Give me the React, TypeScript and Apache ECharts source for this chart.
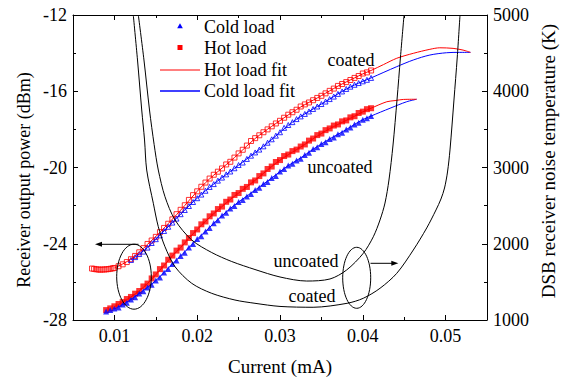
import React, { useEffect, useRef } from "react";
import * as echarts from "echarts";

const FONT = "Liberation Serif";

const xMajorTicks = [0.01, 0.02, 0.03, 0.04, 0.05];
const xMinorTicks = [0.015, 0.025, 0.035, 0.045];

// Coated, hot load (open squares)
const coatedHot: number[][] = [
  [0.0073, -25.3], [0.00755, -25.32], [0.0078, -25.34], [0.00805, -25.35], [0.0083, -25.36], [0.00855, -25.35],
  [0.0088, -25.35], [0.00905, -25.34], [0.0093, -25.33], [0.00955, -25.31], [0.0098, -25.29], [0.01, -25.27],
  [0.0105, -25.18], [0.011, -25.08], [0.0115, -24.96], [0.012, -24.81], [0.0125, -24.64], [0.013, -24.45],
  [0.0135, -24.23], [0.014, -24.01], [0.0145, -23.83], [0.015, -23.64], [0.0155, -23.39], [0.016, -23.17],
  [0.0165, -22.95], [0.017, -22.72], [0.0175, -22.45], [0.018, -22.22], [0.0185, -21.98], [0.019, -21.7],
  [0.0195, -21.45], [0.02, -21.25], [0.0205, -21.01], [0.021, -20.79], [0.0215, -20.58], [0.022, -20.38],
  [0.0225, -20.22], [0.023, -20.05], [0.0235, -19.84], [0.024, -19.7], [0.0245, -19.48], [0.025, -19.26],
  [0.0255, -19.07], [0.026, -18.85], [0.0265, -18.61], [0.027, -18.46], [0.0275, -18.31], [0.028, -18.15],
  [0.0285, -18.0], [0.029, -17.84], [0.0295, -17.69], [0.03, -17.55], [0.0305, -17.39], [0.031, -17.23],
  [0.0315, -17.1], [0.032, -16.97], [0.0325, -16.8], [0.033, -16.69], [0.0335, -16.59], [0.034, -16.47],
  [0.0345, -16.35], [0.035, -16.24], [0.0355, -16.11], [0.036, -15.98], [0.0365, -15.86], [0.037, -15.72],
  [0.0375, -15.62], [0.038, -15.52], [0.0385, -15.41], [0.039, -15.3], [0.0395, -15.2], [0.04, -15.07],
  [0.0405, -15.01], [0.041, -14.91],
];

// Coated, cold load (open triangles)
const coatedCold: number[][] = [
  [0.012, -24.85], [0.0125, -24.7], [0.013, -24.54], [0.0135, -24.41], [0.014, -24.2], [0.0145, -23.96],
  [0.015, -23.76], [0.0155, -23.56], [0.016, -23.33], [0.0165, -23.11], [0.017, -22.89], [0.0175, -22.68],
  [0.018, -22.45], [0.0185, -22.23], [0.019, -22.02], [0.0195, -21.81], [0.02, -21.61], [0.0205, -21.42],
  [0.021, -21.22], [0.0215, -21.02], [0.022, -20.87], [0.0225, -20.69], [0.023, -20.53], [0.0235, -20.36],
  [0.024, -20.21], [0.0245, -20.04], [0.025, -19.87], [0.0255, -19.74], [0.026, -19.55], [0.0265, -19.38],
  [0.027, -19.21], [0.0275, -19.06], [0.028, -18.89], [0.0285, -18.7], [0.029, -18.52], [0.0295, -18.33],
  [0.03, -18.15], [0.0305, -17.92], [0.031, -17.77], [0.0315, -17.62], [0.032, -17.46], [0.0325, -17.32],
  [0.033, -17.19], [0.0335, -17.06], [0.034, -16.93], [0.0345, -16.8], [0.035, -16.67], [0.0355, -16.54],
  [0.036, -16.41], [0.0365, -16.28], [0.037, -16.14], [0.0375, -16.01], [0.038, -15.88], [0.0385, -15.76],
  [0.039, -15.66], [0.0395, -15.57], [0.04, -15.48], [0.0405, -15.4], [0.041, -15.3],
];

// Uncoated, hot load (filled squares)
const uncoatedHot: number[][] = [
  [0.009, -27.48], [0.0095, -27.39], [0.01, -27.28], [0.0105, -27.16], [0.011, -27.06], [0.0115, -26.9],
  [0.012, -26.79], [0.0125, -26.62], [0.013, -26.48], [0.0135, -26.24], [0.014, -26.09], [0.0145, -25.82],
  [0.015, -25.61], [0.0155, -25.33], [0.016, -25.14], [0.0165, -24.84], [0.017, -24.62], [0.0175, -24.36],
  [0.018, -24.2], [0.0185, -23.93], [0.019, -23.7], [0.0195, -23.44], [0.02, -23.25], [0.0205, -22.98],
  [0.021, -22.83], [0.0215, -22.56], [0.022, -22.41], [0.0225, -22.18], [0.023, -22.05], [0.0235, -21.8],
  [0.024, -21.68], [0.0245, -21.44], [0.025, -21.34], [0.0255, -21.12], [0.026, -21.02], [0.0265, -20.78],
  [0.027, -20.68], [0.0275, -20.45], [0.028, -20.31], [0.0285, -20.08], [0.029, -19.95], [0.0295, -19.71],
  [0.03, -19.61], [0.0305, -19.4], [0.031, -19.32], [0.0315, -19.14], [0.032, -19.06], [0.0325, -18.9],
  [0.033, -18.79], [0.0335, -18.59], [0.034, -18.48], [0.0345, -18.3], [0.035, -18.22], [0.0355, -18.04],
  [0.036, -17.95], [0.0365, -17.8], [0.037, -17.74], [0.0375, -17.58], [0.038, -17.53], [0.0385, -17.37],
  [0.039, -17.31], [0.0395, -17.14], [0.04, -17.07], [0.0405, -16.94], [0.041, -16.89],
];

// Uncoated, cold load (filled triangles)
const uncoatedCold: number[][] = [
  [0.009, -27.55], [0.0095, -27.48], [0.01, -27.4], [0.0105, -27.34], [0.011, -27.19], [0.0115, -27.09],
  [0.012, -26.92], [0.0125, -26.8], [0.013, -26.61], [0.0135, -26.49], [0.014, -26.3], [0.0145, -26.15],
  [0.015, -25.93], [0.0155, -25.77], [0.016, -25.51], [0.0165, -25.32], [0.017, -25.06], [0.0175, -24.88],
  [0.018, -24.64], [0.0185, -24.47], [0.019, -24.2], [0.0195, -24.01], [0.02, -23.75], [0.0205, -23.6],
  [0.021, -23.36], [0.0215, -23.17], [0.022, -22.93], [0.0225, -22.77], [0.023, -22.52], [0.0235, -22.38],
  [0.024, -22.15], [0.0245, -22.02], [0.025, -21.81], [0.0255, -21.7], [0.026, -21.52], [0.0265, -21.39],
  [0.027, -21.18], [0.0275, -21.06], [0.028, -20.87], [0.0285, -20.76], [0.029, -20.55], [0.0295, -20.44],
  [0.03, -20.21], [0.0305, -20.08], [0.031, -19.89], [0.0315, -19.8], [0.032, -19.63], [0.0325, -19.54],
  [0.033, -19.34], [0.0335, -19.23], [0.034, -19.03], [0.0345, -18.94], [0.035, -18.77], [0.0355, -18.68],
  [0.036, -18.5], [0.0365, -18.42], [0.037, -18.26], [0.0375, -18.18], [0.038, -18.01], [0.0385, -17.9],
  [0.039, -17.74], [0.0395, -17.65], [0.04, -17.49], [0.0405, -17.42], [0.041, -17.3],
];

const coatedHotFit: number[][] = [
  [0.01, -25.27], [0.011, -25.06], [0.012, -24.8], [0.013, -24.45], [0.014, -24.03], [0.015, -23.62],
  [0.016, -23.17], [0.017, -22.71], [0.018, -22.24], [0.019, -21.74], [0.02, -21.25], [0.021, -20.8],
  [0.022, -20.4], [0.023, -20.03], [0.024, -19.67], [0.025, -19.28], [0.026, -18.87], [0.027, -18.48],
  [0.028, -18.15], [0.029, -17.84], [0.03, -17.54], [0.031, -17.24], [0.032, -16.96], [0.033, -16.7],
  [0.034, -16.47], [0.035, -16.23], [0.036, -15.98], [0.037, -15.73], [0.038, -15.51], [0.039, -15.3],
  [0.04, -15.09], [0.041, -14.91], [0.0425, -14.6], [0.0441, -14.27], [0.0461, -14.01], [0.0481, -13.8],
  [0.0493, -13.72], [0.0509, -13.75], [0.0521, -13.84], [0.053, -13.96],
];

const coatedColdFit: number[][] = [
  [0.012, -24.85], [0.013, -24.54], [0.014, -24.2], [0.015, -23.77], [0.016, -23.33], [0.017, -22.89],
  [0.018, -22.45], [0.019, -22.02], [0.02, -21.61], [0.021, -21.22], [0.022, -20.87], [0.023, -20.53],
  [0.024, -20.21], [0.025, -19.88], [0.026, -19.55], [0.027, -19.22], [0.028, -18.89], [0.029, -18.53],
  [0.03, -18.16], [0.031, -17.79], [0.032, -17.47], [0.033, -17.19], [0.034, -16.93], [0.035, -16.67],
  [0.036, -16.41], [0.037, -16.14], [0.038, -15.89], [0.039, -15.67], [0.04, -15.48], [0.041, -15.3],
  [0.0441, -14.71], [0.0461, -14.36], [0.0481, -14.1], [0.0501, -13.98], [0.0517, -13.96], [0.053, -13.96],
];

const uncoatedHotFit: number[][] = [
  [0.01, -27.3], [0.011, -27.06], [0.012, -26.79], [0.013, -26.47], [0.014, -26.09], [0.015, -25.62],
  [0.016, -25.14], [0.017, -24.64], [0.018, -24.2], [0.019, -23.71], [0.02, -23.25], [0.021, -22.83],
  [0.022, -22.42], [0.023, -22.05], [0.024, -21.68], [0.025, -21.34], [0.026, -21.01], [0.027, -20.67],
  [0.028, -20.31], [0.029, -19.95], [0.03, -19.62], [0.031, -19.33], [0.032, -19.06], [0.033, -18.79],
  [0.034, -18.49], [0.035, -18.22], [0.036, -17.96], [0.037, -17.74], [0.038, -17.53], [0.039, -17.31],
  [0.04, -17.08], [0.041, -16.89], [0.0429, -16.55], [0.0439, -16.49], [0.0449, -16.43], [0.0465, -16.42],
];

const uncoatedColdFit: number[][] = [
  [0.01, -27.42], [0.011, -27.19], [0.012, -26.92], [0.013, -26.61], [0.014, -26.29], [0.015, -25.93],
  [0.016, -25.51], [0.017, -25.06], [0.018, -24.64], [0.019, -24.2], [0.02, -23.76], [0.021, -23.35],
  [0.022, -22.93], [0.023, -22.53], [0.024, -22.15], [0.025, -21.81], [0.026, -21.5], [0.027, -21.18],
  [0.028, -20.87], [0.029, -20.55], [0.03, -20.22], [0.031, -19.9], [0.032, -19.63], [0.033, -19.35],
  [0.034, -19.04], [0.035, -18.77], [0.036, -18.5], [0.037, -18.26], [0.038, -18.01], [0.039, -17.74],
  [0.04, -17.49], [0.041, -17.3], [0.0433, -16.89], [0.0453, -16.55], [0.0465, -16.42],
];

// DSB receiver noise temperature (K)
const coatedNoise: number[][] = [
  [0.01228, 5000], [0.01279, 4410], [0.0133, 3754], [0.01364, 3361], [0.0139, 2967], [0.0147, 2531],
  [0.0153, 2224], [0.01611, 1961], [0.01732, 1699], [0.01934, 1481], [0.02175, 1350], [0.02456, 1262],
  [0.02698, 1219], [0.03, 1178], [0.034, 1167], [0.0381, 1219], [0.04006, 1285], [0.04208, 1416],
  [0.0441, 1612], [0.0461, 1918], [0.04772, 2207], [0.04884, 2443], [0.04944, 2587], [0.04987, 2731],
  [0.05023, 2941], [0.05053, 3230], [0.05101, 3885], [0.05141, 4449], [0.05174, 5000],
];

const uncoatedNoise: number[][] = [
  [0.01289, 5000], [0.01357, 4410], [0.01424, 3754], [0.0148, 3300], [0.0153, 2967], [0.01611, 2617],
  [0.01732, 2312], [0.01934, 2049], [0.02175, 1885], [0.02417, 1767], [0.02698, 1662], [0.03, 1564],
  [0.03322, 1511], [0.03604, 1538], [0.03805, 1656], [0.04006, 1875], [0.04127, 2092], [0.04208, 2312],
  [0.04268, 2534], [0.04316, 2836], [0.04365, 3295], [0.04413, 3885], [0.04455, 4449], [0.04498, 5000],
];

const RED = "#ff0000";
const BLUE = "#0000ff";

export default function App() {
  const ref = useRef<HTMLDivElement>(null);

  useEffect(() => {
    if (!ref.current) return;
    const chart = echarts.init(ref.current, undefined, { renderer: "svg" });
    const axisFont = { fontFamily: FONT, fontSize: 18, color: "#000" };
    const lineStyle = { color: "#000", width: 1 };

    const xBase = {
      type: "value" as const,
      min: 0.005,
      max: 0.055,
      splitLine: { show: false },
      gridIndex: 0,
    };

    const scatter = (name: string, data: number[][], symbol: string, size: number, filled: boolean, color: string) => ({
      name,
      type: "scatter",
      data,
      symbol,
      symbolSize: size,
      xAxisIndex: 0,
      yAxisIndex: 0,
      itemStyle: filled
        ? { color }
        : { color: "rgba(255,255,255,0)", borderColor: color, borderWidth: 1 },
      emphasis: { disabled: true },
    });

    const fit = (name: string, data: number[][], color: string) => ({
      name,
      type: "line",
      data,
      xAxisIndex: 0,
      yAxisIndex: 0,
      showSymbol: false,
      symbol: "none",
      smooth: 0.3,
      lineStyle: { color, width: 1 },
      z: 4,
    });

    const noise = (name: string, data: number[][]) => ({
      name,
      type: "line",
      data,
      xAxisIndex: 0,
      yAxisIndex: 1,
      showSymbol: false,
      symbol: "none",
      smooth: 0.3,
      lineStyle: { color: "#000", width: 1 },
      z: 5,
    });

    const textStyle = { fontFamily: FONT, fontSize: 18, fill: "#000" };

    chart.setOption({
      animation: false,
      backgroundColor: "#fff",
      grid: { left: 73, right: 78, top: 15, bottom: 63, containLabel: false },
      xAxis: [
        {
          ...xBase,
          position: "bottom",
          axisLine: { show: true, lineStyle },
          axisTick: { show: true, inside: true, length: 5, lineStyle, customValues: xMajorTicks },
          axisLabel: {
            ...axisFont,
            margin: 7,
            customValues: xMajorTicks,
            formatter: (v: number) => v.toFixed(2),
          },
          name: "Current (mA)",
          nameLocation: "middle",
          nameGap: 37,
          nameTextStyle: { fontFamily: FONT, fontSize: 19, color: "#000" },
        },
        {
          ...xBase,
          position: "bottom",
          axisLine: { show: false },
          axisTick: { show: true, inside: true, length: 3, lineStyle, customValues: xMinorTicks },
          axisLabel: { show: false },
        },
        {
          ...xBase,
          position: "top",
          axisLine: { show: true, lineStyle },
          axisTick: { show: true, inside: true, length: 5, lineStyle, customValues: xMajorTicks },
          axisLabel: { show: false },
        },
        {
          ...xBase,
          position: "top",
          axisLine: { show: false },
          axisTick: { show: true, inside: true, length: 3, lineStyle, customValues: xMinorTicks },
          axisLabel: { show: false },
        },
      ],
      yAxis: [
        {
          type: "value",
          min: -28,
          max: -12,
          interval: 4,
          position: "left",
          axisLine: { show: true, lineStyle },
          axisTick: { show: true, inside: true, length: 5, lineStyle },
          minorTick: { show: true, splitNumber: 2, length: 3, lineStyle },
          splitLine: { show: false },
          axisLabel: { ...axisFont, margin: 6 },
        },
        {
          type: "value",
          min: 1000,
          max: 5000,
          interval: 1000,
          position: "right",
          axisLine: { show: true, lineStyle },
          axisTick: { show: true, inside: true, length: 5, lineStyle },
          minorTick: { show: true, splitNumber: 2, length: 3, lineStyle },
          splitLine: { show: false },
          axisLabel: { ...axisFont, margin: 6, formatter: (v: number) => String(v) },
        },
      ],
      series: [
        scatter("Hot load", coatedHot, "rect", 5, false, RED),
        scatter("Cold load", coatedCold, "triangle", 5, false, BLUE),
        scatter("Hot load", uncoatedHot, "rect", 6, true, RED),
        scatter("Cold load", uncoatedCold, "triangle", 6, true, BLUE),
        fit("Cold load fit", coatedColdFit, BLUE),
        fit("Hot load fit", coatedHotFit, RED),
        fit("Cold load fit", uncoatedColdFit, BLUE),
        fit("Hot load fit", uncoatedHotFit, RED),
        noise("coated", coatedNoise),
        noise("uncoated", uncoatedNoise),
      ],
      graphic: [
        // axis titles
        {
          type: "text", x: 23.5, y: 180, rotation: Math.PI / 2,
          style: { ...textStyle, text: "Receiver output power (dBm)", align: "center", verticalAlign: "middle" },
        },
        {
          type: "text", x: 548, y: 161, rotation: Math.PI / 2,
          style: { ...textStyle, fontSize: 19, text: "DSB receiver noise temperature (K)", align: "center", verticalAlign: "middle" },
        },
        // legend
        { type: "polygon", shape: { points: [[180, 23.3], [182.8, 28.2], [177.2, 28.2]] }, style: { fill: BLUE }, z: 10 },
        { type: "rect", shape: { x: 177.5, y: 45, width: 5, height: 5 }, style: { fill: RED }, z: 10 },
        { type: "line", shape: { x1: 160, y1: 70, x2: 200, y2: 70 }, style: { stroke: RED, lineWidth: 1 }, z: 10 },
        { type: "line", shape: { x1: 160, y1: 91, x2: 200, y2: 91 }, style: { stroke: BLUE, lineWidth: 1.5 }, z: 10 },
        { type: "text", x: 204, y: 27, style: { ...textStyle, text: "Cold load", align: "left", verticalAlign: "middle" }, z: 10 },
        { type: "text", x: 204, y: 48, style: { ...textStyle, text: "Hot load", align: "left", verticalAlign: "middle" }, z: 10 },
        { type: "text", x: 204, y: 70, style: { ...textStyle, text: "Hot load fit", align: "left", verticalAlign: "middle" }, z: 10 },
        { type: "text", x: 204, y: 91, style: { ...textStyle, text: "Cold load fit", align: "left", verticalAlign: "middle" }, z: 10 },
        // annotations
        { type: "text", x: 351, y: 60, style: { ...textStyle, text: "coated", align: "center", verticalAlign: "middle" }, z: 10 },
        { type: "text", x: 340, y: 167, style: { ...textStyle, text: "uncoated", align: "center", verticalAlign: "middle" }, z: 10 },
        { type: "text", x: 306, y: 261, style: { ...textStyle, text: "uncoated", align: "center", verticalAlign: "middle" }, z: 10 },
        { type: "text", x: 312, y: 296, style: { ...textStyle, text: "coated", align: "center", verticalAlign: "middle" }, z: 10 },
        { type: "ellipse", shape: { cx: 134, cy: 276.7, rx: 17.3, ry: 32.5 }, style: { fill: "none", stroke: "#000", lineWidth: 1 }, z: 10 },
        { type: "ellipse", shape: { cx: 356.7, cy: 277.8, rx: 14, ry: 30.5 }, style: { fill: "none", stroke: "#000", lineWidth: 1 }, z: 10 },
        { type: "line", shape: { x1: 101, y1: 244.3, x2: 138.5, y2: 244.3 }, style: { stroke: "#000", lineWidth: 1 }, z: 10 },
        { type: "polygon", shape: { points: [[95, 244.3], [102, 241.8], [102, 246.8]] }, style: { fill: "#000" }, z: 10 },
        { type: "line", shape: { x1: 370.5, y1: 263.3, x2: 392, y2: 263.3 }, style: { stroke: "#000", lineWidth: 1 }, z: 10 },
        { type: "polygon", shape: { points: [[398.3, 263.3], [391.3, 260.8], [391.3, 265.8]] }, style: { fill: "#000" }, z: 10 },
      ],
    });

    return () => chart.dispose();
  }, []);

  return (
    <div
      ref={ref}
      style={{ position: "fixed", left: 0, top: 0, width: 565, height: 383, background: "#fff" }}
    />
  );
}
